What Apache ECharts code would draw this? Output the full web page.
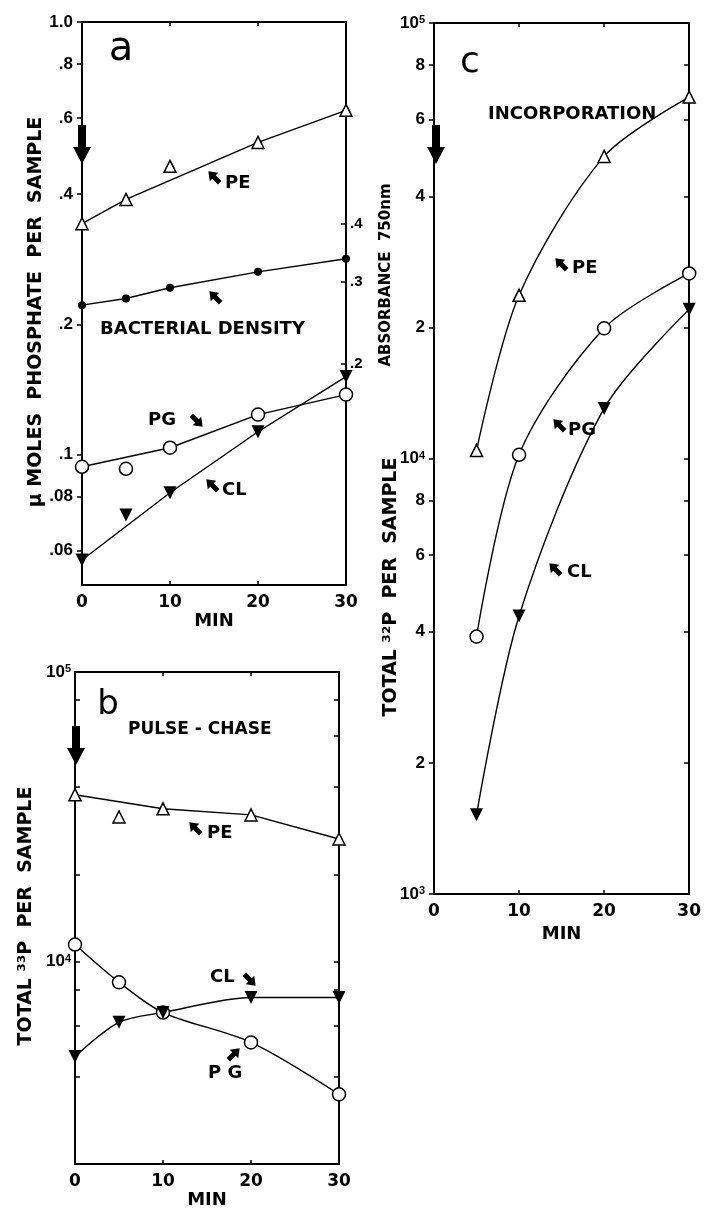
<!DOCTYPE html>
<html>
<head>
<meta charset="utf-8">
<title>Phospholipid labeling</title>
<script src="https://cdn.jsdelivr.net/npm/echarts@6.0.0/dist/echarts.min.js"></script>
<style>
  html, body { margin: 0; padding: 0; background: #fff; }
  #chart { width: 704px; height: 1210px; }
</style>
</head>
<body>
<div id="chart"></div>
<script>
// ---- panel a: umoles phosphate per sample (log scale) ----
const aTime = [0, 5, 10, 20, 30];
const aPE = [0.342, 0.389, 0.464, 0.527, 0.625];
const aPG = [0.0938, 0.0928, 0.1038, 0.1238, 0.1377];
const aCL = [0.0571, 0.0726, 0.0817, 0.113, 0.1516];
const aDensity = [0.267, 0.276, 0.291, 0.315, 0.336]; // absorbance 750 nm (right axis)
// measured points the drawn line passes by (min)
const aPEOff = [10];
const aPGOff = [5];
const aCLOff = [5];
const aLeftTicks = [0.06, 0.08, 0.1, 0.2, 0.4, 0.6, 0.8, 1.0];
const aLeftLabels = ['.06', '.08', '.1', '.2', '.4', '.6', '.8', '1.0'];
const aRightTicks = [0.2, 0.3, 0.4];
const aRightLabels = ['.2', '.3', '.4'];

// ---- panel b: pulse-chase, total 33P per sample ----
const bTime = [0, 5, 10, 20, 30];
const bPE = [37700, 31600, 33700, 32100, 26500];
const bPG = [11450, 8480, 6670, 5260, 3480];
const bCL = [4700, 6170, 6670, 7520, 7520];
const bPEOff = [5];
const bTicks = [4000, 6000, 8000, 10000, 20000, 40000, 60000, 80000, 100000];
const bLabels = ['', '', '', '10^4', '', '', '', '', '10^5'];

// ---- panel c: incorporation, total 32P per sample ----
const cTime = [5, 10, 20, 30];
const cPE = [10430, 23700, 49400, 67600];
const cPG = [3900, 10200, 19900, 26600];
const cCL = [1520, 4350, 13030, 22000];
const cTicks = [1000, 2000, 4000, 6000, 8000, 10000, 20000, 40000, 60000, 80000, 100000];
const cLabels = ['10^3', '2', '4', '6', '8', '10^4', '2', '4', '6', '8', '10^5'];

const black = '#000';
const numFont = 'Liberation Sans';
const txtFont = 'DejaVu Sans';
const lg = v => Math.log10(v);

const chart = echarts.init(document.getElementById('chart'));

// x axes (bottom with labels, top only for the frame)
function xBottom(grid, gap) {
  return {
    type: 'value', gridIndex: grid, min: 0, max: 30, interval: 10, position: 'bottom',
    axisLine: {onZero: false, lineStyle: {color: black, width: 2}},
    axisTick: {inside: true, length: 4, lineStyle: {color: black, width: 1.5}},
    axisLabel: {color: black, fontFamily: txtFont, fontWeight: 'bold', fontSize: 17, margin: 9},
    splitLine: {show: false},
    name: 'MIN', nameLocation: 'middle', nameGap: gap,
    nameTextStyle: {color: black, fontFamily: txtFont, fontWeight: 'bold', fontSize: 18}
  };
}
function xTop(grid) {
  return {
    type: 'value', gridIndex: grid, min: 0, max: 30, interval: 10, position: 'top',
    axisLine: {onZero: false, lineStyle: {color: black, width: 2}},
    axisTick: {inside: true, length: 4, lineStyle: {color: black, width: 1.5}},
    axisLabel: {show: false}, splitLine: {show: false}
  };
}

// log axes drawn as value axes over log10 of the data
function tickFormatter(ticks, labels) {
  return v => {
    const i = ticks.findIndex(t => Math.abs(lg(t) - v) < 1e-6);
    if (i < 0) return '';
    const s = labels[i];
    if (s.startsWith('10^')) return '{n|10}{s|' + s.slice(3) + '}';
    return s;
  };
}
function logAxis(grid, pos, lo, hi, ticks, labels, o) {
  return {
    type: 'value', gridIndex: grid, position: pos, min: lg(lo), max: lg(hi),
    axisLine: {onZero: false, lineStyle: {color: black, width: 2}},
    axisTick: {inside: o.inside, length: 5, lineStyle: {color: black, width: 1.5},
      customValues: ticks.map(lg)},
    axisLabel: {
      show: !!labels, color: black, fontFamily: numFont, fontWeight: 'bold',
      fontSize: o.fontSize || 17, margin: o.margin,
      customValues: labels ? ticks.filter((t, i) => labels[i] !== '').map(lg) : [],
      formatter: labels ? tickFormatter(ticks, labels) : '',
      rich: {
        n: {fontFamily: numFont, fontWeight: 'bold', fontSize: 17, color: black},
        s: {fontFamily: numFont, fontWeight: 'bold', fontSize: 11, color: black, verticalAlign: 'top'}
      }
    },
    splitLine: {show: false}
  };
}

function pts(t, v) {
  return t.map((x, i) => [x, lg(v[i])]);
}
function curve(xi, yi, t, v, off, smooth) {
  return {
    type: 'line', xAxisIndex: xi, yAxisIndex: yi, silent: true,
    data: pts(t, v).filter((p, i) => !off.includes(t[i])),
    showSymbol: false, smooth: smooth,
    lineStyle: {color: black, width: 1.4}, z: 2
  };
}
const SYM = {
  openTri: {symbol: 'triangle', symbolSize: 12, symbolRotate: 0,
    itemStyle: {color: '#fff', borderColor: black, borderWidth: 1.5, opacity: 1}},
  openCircle: {symbol: 'circle', symbolSize: 13, symbolRotate: 0,
    itemStyle: {color: '#fff', borderColor: black, borderWidth: 1.5, opacity: 1}},
  downTri: {symbol: 'triangle', symbolSize: 13, symbolRotate: 180,
    itemStyle: {color: black, borderWidth: 0, opacity: 1}},
  dot: {symbol: 'circle', symbolSize: 8, symbolRotate: 0,
    itemStyle: {color: black, borderWidth: 0, opacity: 1}}
};
function marks(xi, yi, t, v, kind) {
  return Object.assign({
    type: 'scatter', xAxisIndex: xi, yAxisIndex: yi, silent: true,
    data: pts(t, v), z: 3
  }, SYM[kind]);
}

// annotation helpers
function smallArrow(x, y, rot) {
  return {type: 'polygon', x: x, y: y, rotation: rot,
    shape: {points: [[0, -8], [6, 0], [2.5, 0], [2.5, 8], [-2.5, 8], [-2.5, 0], [-6, 0]]},
    style: {fill: black}};
}
function bigArrow(x, y) {
  return {type: 'polygon', x: x, y: y, z: 10,
    shape: {points: [[-4, 0], [4, 0], [4, 22], [9, 22], [0, 39], [-9, 22], [-4, 22]]},
    style: {fill: black}};
}
function text(str, x, y, size, extra) {
  return Object.assign({type: 'text', x: x, y: y,
    style: {text: str, fill: black, fontFamily: txtFont, fontWeight: 'bold', fontSize: size,
      align: 'left', verticalAlign: 'middle'}}, extra || {});
}
function vtext(str, x, y, size) {
  return {type: 'text', x: x, y: y, rotation: Math.PI / 2,
    style: {text: str, fill: black, fontFamily: txtFont, fontWeight: 'bold', fontSize: size,
      align: 'center', verticalAlign: 'middle'}};
}
function letter(str, x, y, size) {
  return {type: 'text', x: x, y: y,
    style: {text: str, fill: black, fontFamily: txtFont, fontWeight: 'normal', fontSize: size,
      align: 'center', verticalAlign: 'middle'}};
}
const NW = Math.PI / 4, SE = -3 * Math.PI / 4, NE = -Math.PI / 4;

const option = {
  animation: false,
  backgroundColor: '#fff',
  grid: [
    {left: 82, top: 22, width: 264, height: 563},
    {left: 75, top: 672, width: 264, height: 494},
    {left: 434, top: 23, width: 266, height: 871}
  ],
  xAxis: [xBottom(0, 24), xTop(0), xBottom(1, 27), xTop(1), xBottom(2, 28), xTop(2)],
  yAxis: [
    logAxis(0, 'left', 0.05, 1.0, aLeftTicks, aLeftLabels, {inside: false, margin: 9}),
    logAxis(0, 'right', 0.0666, 1.088, aRightTicks, aRightLabels, {inside: true, margin: 4, fontSize: 15}),
    logAxis(1, 'left', 2000, 100000, bTicks, bLabels, {inside: true, margin: 4}),
    logAxis(1, 'right', 2000, 100000, bTicks, null, {inside: true}),
    logAxis(2, 'left', 1000, 100000, cTicks, cLabels, {inside: false, margin: 9}),
    logAxis(2, 'right', 1000, 100000, cTicks, null, {inside: true})
  ],
  series: [
    // panel a
    curve(0, 0, aTime, aPE, aPEOff, false), marks(0, 0, aTime, aPE, 'openTri'),
    curve(0, 1, aTime, aDensity, [], false), marks(0, 1, aTime, aDensity, 'dot'),
    curve(0, 0, aTime, aPG, aPGOff, false), marks(0, 0, aTime, aPG, 'openCircle'),
    curve(0, 0, aTime, aCL, aCLOff, false), marks(0, 0, aTime, aCL, 'downTri'),
    // panel b
    curve(2, 2, bTime, bPE, bPEOff, false), marks(2, 2, bTime, bPE, 'openTri'),
    curve(2, 2, bTime, bPG, [], 0.3), marks(2, 2, bTime, bPG, 'openCircle'),
    curve(2, 2, bTime, bCL, [], 0.3), marks(2, 2, bTime, bCL, 'downTri'),
    // panel c
    curve(4, 4, cTime, cPE, [], 0.3), marks(4, 4, cTime, cPE, 'openTri'),
    curve(4, 4, cTime, cPG, [], 0.3), marks(4, 4, cTime, cPG, 'openCircle'),
    curve(4, 4, cTime, cCL, [], 0.3), marks(4, 4, cTime, cCL, 'downTri')
  ],
  graphic: [
    // panel a
    letter('a', 121, 50, 40),
    bigArrow(82, 125),
    smallArrow(214, 177, NW), text('PE', 225, 183, 18),
    smallArrow(215, 297, NW),
    text('BACTERIAL DENSITY', 100, 329, 18),
    text('PG', 148, 420, 18), smallArrow(197, 421, SE),
    smallArrow(212, 485, NW), text('CL', 222, 490, 18),
    vtext('\u03bc MOLES  PHOSPHATE  PER  SAMPLE', 36, 312, 19),
    vtext('ABSORBANCE  750nm', 386, 275, 15),
    // panel b
    letter('b', 108, 705, 34),
    bigArrow(76, 726),
    text('PULSE - CHASE', 128, 730, 17),
    smallArrow(195, 828, NW), text('PE', 207, 833, 18),
    text('CL', 210, 977, 18), smallArrow(250, 980, SE),
    text('P G', 208, 1073, 18), smallArrow(234, 1054, NE),
    vtext('TOTAL \u00b3\u00b3P  PER  SAMPLE', 26, 916, 19),
    // panel c
    letter('c', 470, 63, 36),
    bigArrow(436, 125),
    text('INCORPORATION', 488, 114, 18),
    smallArrow(561, 264, NW), text('PE', 572, 268, 18),
    smallArrow(559, 425, NW), text('PG', 568, 430, 18),
    smallArrow(555, 569, NW), text('CL', 567, 572, 18),
    vtext('TOTAL \u00b3\u00b2P  PER  SAMPLE', 391, 587, 19)
  ]
};

chart.setOption(option);
</script>
</body>
</html>
